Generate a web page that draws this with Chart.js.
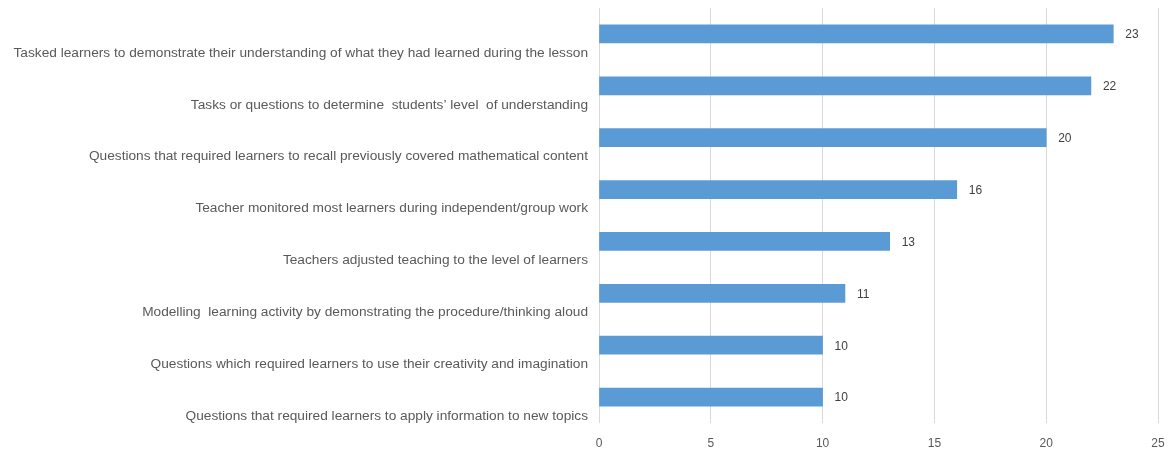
<!DOCTYPE html>
<html>
<head>
<meta charset="utf-8">
<script src="https://cdn.jsdelivr.net/npm/chart.js@4/dist/chart.umd.min.js"></script>
<style>
  html, body { margin: 0; padding: 0; background: #ffffff; }
  #wrap { width: 1175px; height: 452px; position: relative; }
</style>
</head>
<body>
<div id="wrap"><canvas id="c"></canvas></div>
<script>
// Classroom practices observed and how many lessons showed each one
const categories = [
  "Tasked learners to demonstrate their understanding of what they had learned during the lesson",
  "Tasks or questions to determine  students’ level  of understanding",
  "Questions that required learners to recall previously covered mathematical content",
  "Teacher monitored most learners during independent/group work",
  "Teachers adjusted teaching to the level of learners",
  "Modelling  learning activity by demonstrating the procedure/thinking aloud",
  "Questions which required learners to use their creativity and imagination",
  "Questions that required learners to apply information to new topics"
];
const counts = [23, 22, 20, 16, 13, 11, 10, 10];
const xTicks = [0, 5, 10, 15, 20, 25];

// Writes each bar's value just past its end
const valueLabels = {
  id: 'valueLabels',
  afterDatasetsDraw(chart) {
    const ctx = chart.ctx;
    const meta = chart.getDatasetMeta(0);
    ctx.save();
    ctx.font = '12px "Liberation Sans", Arial, sans-serif';
    ctx.fillStyle = '#404040';
    ctx.textAlign = 'left';
    ctx.textBaseline = 'middle';
    meta.data.forEach((bar, i) => {
      ctx.fillText(String(counts[i]), bar.x + 12, bar.y + 1);
    });
    ctx.restore();
  }
};

new Chart(document.getElementById('c'), {
  type: 'bar',
  data: {
    // empty first line pushes each category name below its bar
    labels: categories.map(t => ['', t]),
    datasets: [{
      data: counts,
      backgroundColor: '#5b9bd5',
      borderWidth: 0,
      barThickness: 18
    }]
  },
  options: {
    indexAxis: 'y',
    responsive: true,
    maintainAspectRatio: false,
    animation: false,
    layout: { padding: { top: 8, right: 17, bottom: 0, left: 0 } },
    plugins: {
      legend: { display: false },
      tooltip: { enabled: false }
    },
    scales: {
      x: {
        min: 0,
        max: 25,
        afterBuildTicks(scale) {
          scale.ticks = xTicks.map(v => ({ value: v }));
        },
        afterFit(scale) {
          scale.height = 29;
          scale.paddingLeft = 0;
          scale.paddingRight = 0;
        },
        border: { display: false },
        grid: { color: '#d9d9d9', lineWidth: 1, drawTicks: false },
        ticks: {
          padding: 13,
          color: '#595959',
          font: { family: '"Liberation Sans", Arial, sans-serif', size: 12 }
        }
      },
      y: {
        afterFit(scale) {
          scale.width = 599;
          // the tall two-line labels should not push the plot area inward
          scale.paddingTop = 0;
          scale.paddingBottom = 0;
        },
        border: { display: false },
        grid: { display: false, drawTicks: false },
        ticks: {
          autoSkip: false,
          padding: 11,
          color: '#595959',
          font: { family: '"Liberation Sans", Arial, sans-serif', size: 13.7, lineHeight: '38px' }
        }
      }
    }
  },
  plugins: [valueLabels]
});
</script>
</body>
</html>
